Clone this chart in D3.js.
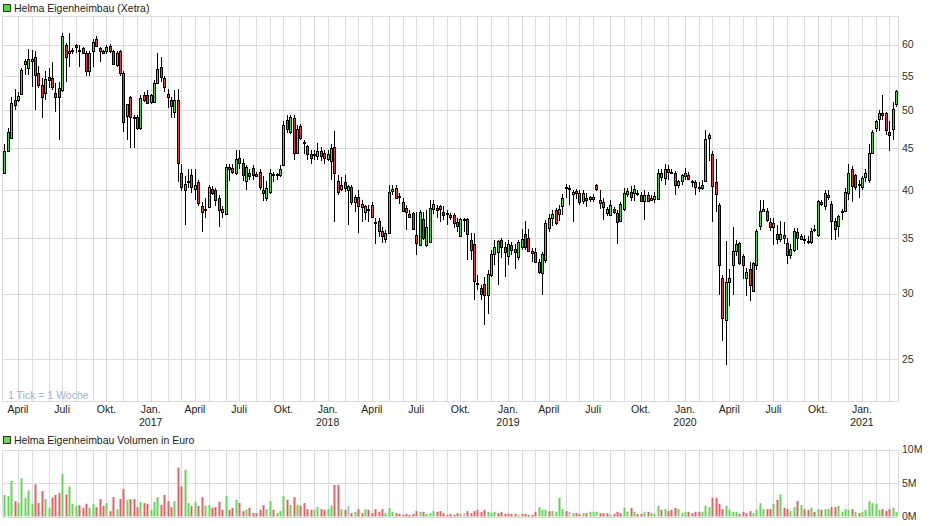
<!DOCTYPE html>
<html><head><meta charset="utf-8">
<script src="https://cdn.jsdelivr.net/npm/d3@7"></script>
<style>body{margin:0;background:#fff}svg{display:block;font-family:"Liberation Sans",Arial,sans-serif}</style>
</head><body><svg id="c" width="940" height="526"></svg>
<script>
// ---- data (weekly candles, Helma Eigenheimbau, Xetra) ----
const firstWeek = "2016-03-07";
const lastWeek = "2021-03-15";
const openP = [
42.0,44.6,46.3,51.5,51.4,52.3,56.9,56.2,57.3,58.0,
55.5,53.7,52.5,54.8,54.7,52.4,53.2,52.9,60.0,59.0,
59.1,60.0,59.1,59.5,58.7,55.8,58.9,61.0,59.5,59.0,
58.9,59.8,58.9,56.7,58.9,55.5,49.2,51.8,49.0,49.0,
47.6,52.2,52.2,51.2,51.2,54.0,56.4,54.7,52.3,51.5,
49.7,51.5,42.0,40.0,40.9,41.7,40.1,40.9,38.3,37.9,
38.2,40.1,40.0,39.1,38.0,37.4,42.7,42.6,42.0,43.8,
43.2,41.0,42.0,42.6,41.8,42.1,40.0,39.2,39.8,41.9,
41.7,41.7,42.9,48.7,47.0,48.9,44.4,47.8,45.7,45.3,
44.3,44.1,44.0,44.6,44.4,43.6,43.4,45.1,41.0,40.1,
40.9,40.0,40.4,38.7,39.3,38.5,37.7,38.0,38.4,36.6,
36.7,35.7,34.9,35.5,39.9,40.3,39.4,38.7,38.1,37.4,
37.5,35.3,34.3,36.9,34.3,34.6,38.0,38.1,38.3,37.7,
37.5,37.3,37.3,36.6,35.2,36.9,36.9,34.8,34.4,30.9,
30.5,30.8,29.9,31.6,33.5,33.7,34.8,34.2,33.3,34.3,
34.0,33.2,34.2,35.4,35.0,33.8,33.7,32.8,31.8,32.9,
36.0,37.0,37.9,37.4,38.3,40.4,40.2,39.6,39.9,39.7,
38.8,39.1,39.0,39.0,40.6,38.9,38.7,37.5,37.3,38.0,
37.5,36.7,38.0,39.6,39.8,39.7,39.7,39.5,38.8,39.5,
38.9,39.0,39.0,42.0,41.4,42.4,42.1,42.0,40.6,41.0,
41.6,41.7,41.0,40.9,40.4,40.2,41.0,46.3,44.3,40.9,
38.4,31.3,27.9,31.0,32.5,33.8,34.5,33.3,31.3,32.1,
30.2,32.5,36.2,37.8,37.8,36.6,36.1,35.4,34.9,35.3,
34.5,33.4,33.9,35.6,34.9,34.9,34.7,34.6,35.9,35.3,
38.7,38.3,39.3,38.5,36.7,36.2,37.6,37.8,39.7,42.4,
41.7,40.7,40.4,41.5,41.2,44.4,47.6,48.8,49.6,49.6,
47.0,47.4,50.9];
const highP = [
45.5,47.6,51.9,53.1,52.6,56.3,57.6,59.3,59.2,59.0,
56.5,54.7,55.7,56.3,57.2,54.0,54.1,62.0,60.3,62.0,
59.5,60.2,60.0,59.7,58.9,58.9,61.0,61.4,59.7,59.2,
60.0,60.2,59.1,58.9,59.1,55.7,50.9,52.0,49.3,49.3,
52.2,52.6,52.9,52.3,54.4,58.7,58.0,55.0,53.0,51.9,
52.9,53.1,43.0,41.6,42.4,42.4,42.4,41.2,38.7,39.2,
40.6,40.5,40.3,39.5,38.3,43.0,43.0,43.0,44.8,44.8,
43.6,42.9,42.4,42.9,42.1,42.4,41.6,41.0,42.4,42.1,
42.0,42.9,48.5,49.3,49.4,49.3,48.0,48.1,46.0,45.4,
44.8,44.7,45.6,45.1,44.8,44.8,45.5,47.2,41.7,41.5,
41.7,40.6,40.6,39.5,40.0,38.9,38.4,38.4,38.7,37.0,
37.0,36.1,35.8,40.6,40.6,40.6,39.7,39.1,38.4,37.9,
37.7,37.6,37.9,37.6,37.9,38.9,38.9,38.4,38.4,38.3,
37.9,37.5,37.5,37.0,37.0,37.0,37.0,35.5,35.5,31.6,
30.7,31.4,32.0,33.9,34.8,34.8,35.0,34.6,34.8,34.6,
34.4,34.8,35.9,36.7,35.9,34.1,34.1,33.0,33.7,36.8,
37.4,37.9,38.1,38.4,39.6,40.7,40.6,40.0,40.1,40.0,
40.0,39.7,39.4,39.6,40.7,40.0,39.2,38.2,38.9,38.2,
37.9,38.7,40.3,40.2,40.5,40.6,40.0,39.8,40.0,39.8,
39.5,39.8,42.4,42.4,43.0,42.9,42.4,42.2,41.2,41.8,
42.6,42.1,41.2,41.2,40.9,41.2,47.3,46.9,44.6,43.6,
38.6,31.6,34.7,32.1,36.1,34.8,34.6,33.5,32.2,32.8,
32.8,35.9,38.9,38.9,38.1,37.0,37.0,36.3,36.7,36.6,
35.0,34.4,36.0,36.0,35.4,35.3,35.2,36.0,36.3,38.9,
38.9,40.0,40.0,38.8,37.0,37.3,38.0,40.3,43.0,42.8,
41.8,41.2,41.6,42.4,45.5,47.3,48.7,50.0,52.2,49.8,
48.5,51.2,52.9];
const lowP = [
41.9,44.5,46.2,50.0,51.2,52.2,55.2,55.2,53.4,50.0,
53.2,48.9,51.5,53.2,52.9,49.7,46.0,52.6,54.1,56.4,
58.5,58.7,56.4,58.4,55.0,55.0,56.4,59.7,57.2,58.4,
58.4,58.7,56.7,56.4,55.0,47.0,46.0,45.0,45.0,47.3,
47.3,51.2,50.8,50.8,51.0,53.8,54.1,52.6,50.3,48.9,
48.9,40.9,39.9,36.3,40.3,39.7,38.9,38.3,35.6,37.0,
38.1,39.5,38.3,36.1,37.0,37.3,41.0,41.8,41.7,42.5,
41.1,40.0,41.2,41.2,41.5,40.0,38.8,38.8,39.6,40.9,
41.2,41.5,42.8,46.9,46.8,43.5,44.2,46.0,44.2,43.5,
43.0,43.5,43.5,43.4,43.0,43.4,41.2,36.6,39.5,39.9,
39.8,36.3,38.4,37.6,35.5,36.6,36.8,36.6,37.0,34.4,
35.1,34.5,34.5,35.4,39.5,39.1,38.5,37.6,35.8,37.0,
35.8,33.4,34.3,34.8,34.2,34.5,37.4,37.0,36.6,36.8,
36.3,36.8,36.0,35.6,35.1,35.6,32.9,32.9,29.5,30.3,
29.5,27.5,28.3,31.4,32.5,30.7,33.1,31.4,32.5,33.4,
32.1,32.9,33.9,33.9,33.7,32.8,32.7,31.7,29.9,32.7,
35.6,36.2,36.3,36.7,37.3,39.2,38.4,36.6,39.0,38.4,
38.5,38.2,38.7,38.7,39.9,38.0,36.8,37.2,37.2,37.4,
34.4,36.6,37.8,39.3,38.8,38.8,39.4,38.7,36.8,38.7,
38.8,38.6,38.9,41.0,40.6,41.2,41.8,39.5,40.3,40.6,
41.2,41.2,40.4,39.5,39.8,40.0,40.9,43.4,36.6,37.7,
29.9,26.3,24.6,29.0,29.9,33.3,32.5,31.2,29.8,29.4,
30.1,32.0,35.8,37.7,36.6,35.7,34.3,34.4,34.6,34.4,
32.6,33.0,33.7,33.9,34.8,34.4,34.4,34.4,35.6,35.1,
38.3,37.9,38.9,34.8,34.8,35.1,36.8,37.7,38.9,38.7,
40.0,39.1,40.0,40.9,40.8,44.2,47.0,47.2,48.7,46.7,
44.6,46.0,50.4];
const closeP = [
44.6,47.0,51.0,50.7,52.0,56.0,57.4,57.6,57.6,55.2,
53.7,51.9,54.6,54.4,53.4,51.9,51.9,61.5,58.0,58.7,
59.0,59.7,58.9,58.7,55.8,58.7,60.5,59.8,58.9,58.7,
59.7,58.9,56.9,58.7,55.4,48.4,50.8,49.0,48.9,47.6,
51.7,51.5,51.0,52.2,54.0,56.1,54.9,53.4,51.8,50.6,
51.5,43.2,40.4,40.7,41.1,40.4,40.6,38.6,37.7,38.0,
40.4,39.7,38.9,37.9,37.7,42.7,42.4,42.1,43.7,43.2,
41.7,42.7,41.6,41.7,41.6,40.4,39.7,40.3,42.0,41.7,
41.8,42.5,48.0,47.4,49.0,44.4,47.4,46.3,45.6,44.2,
43.8,44.2,44.6,44.0,43.8,44.2,45.0,42.0,39.8,40.6,
40.3,40.5,38.7,39.3,38.3,38.2,38.3,37.9,37.1,36.5,
35.7,35.2,35.5,39.8,40.1,39.2,39.3,37.8,37.6,37.1,
35.9,34.5,37.6,35.0,36.1,38.1,38.5,37.9,38.0,37.3,
37.4,37.1,36.5,36.2,36.9,36.9,35.4,33.9,31.1,30.8,
30.0,29.9,31.7,33.5,34.2,34.7,34.2,33.7,34.4,33.9,
33.7,34.6,34.9,34.2,33.8,33.6,32.8,31.9,33.5,36.5,
37.0,37.4,36.5,38.0,39.1,40.3,40.2,39.8,39.7,38.7,
39.7,38.9,39.3,39.3,40.1,38.6,38.2,38.0,38.4,37.6,
36.6,38.5,39.7,39.9,39.3,40.1,39.6,38.8,39.5,38.8,
39.1,39.4,42.0,41.5,42.5,42.1,42.0,40.6,41.0,41.7,
42.0,41.3,40.9,40.4,40.2,40.6,46.1,46.6,40.5,39.6,
32.5,28.0,31.0,31.3,33.8,34.4,32.7,32.5,31.9,30.7,
32.7,35.7,37.8,38.0,36.8,36.1,36.5,34.9,35.4,35.0,
33.4,34.0,35.7,35.0,35.2,34.8,34.6,35.7,35.8,38.8,
38.5,39.7,39.5,36.7,35.9,37.2,37.8,39.8,42.0,40.5,
40.4,40.6,41.4,42.0,44.4,47.1,48.5,49.6,49.4,47.3,
46.7,50.2,52.8];
// weekly turnover in million EUR
const volumeM = [
3.2,3.05,5.3,2.3,2.0,5.7,2.8,3.9,1.9,4.8,
2.0,3.8,2.6,1.3,2.8,3.2,3.5,6.3,3.3,4.5,
1.9,1.6,1.7,1.3,1.9,1.3,1.9,1.4,2.6,1.6,
2.0,0.8,2.9,1.1,2.6,4.1,2.5,2.6,2.6,1.4,
2.2,2.0,1.9,1.0,2.2,2.9,1.7,3.2,2.3,1.4,
2.3,7.3,4.5,7.0,2.0,1.6,2.2,1.6,2.9,1.6,
1.7,1.3,1.4,2.2,1.0,3.05,1.0,1.3,2.5,2.0,
0.8,1.0,1.3,0.5,0.5,1.0,1.7,1.1,2.3,1.0,
0.5,0.8,3.05,2.5,1.7,2.9,1.7,1.6,2.0,1.1,
1.0,1.0,1.4,1.1,1.0,1.1,1.6,4.7,4.7,1.1,
1.0,1.6,0.5,0.7,1.1,0.5,1.1,1.0,0.5,1.1,
0.7,1.1,0.5,1.3,0.7,0.5,0.4,0.25,0.4,0.25,
0.4,0.8,0.7,0.7,0.4,0.5,0.8,0.7,0.8,0.5,
0.25,0.4,0.25,0.5,0.4,0.5,0.8,0.5,0.8,1.0,
0.7,1.0,0.7,0.5,0.7,0.5,0.7,0.4,0.4,0.4,
0.4,0.25,0.4,0.4,0.25,0.25,0.7,1.4,1.0,1.0,
0.8,0.8,0.7,2.8,1.1,0.8,0.7,0.5,0.5,0.4,
0.5,0.5,0.7,0.7,0.7,0.5,0.5,0.5,0.25,0.4,
0.7,0.5,1.3,0.7,1.3,0.7,0.4,0.4,0.7,0.7,
0.5,0.4,1.6,1.0,1.1,0.8,1.0,1.3,1.1,0.5,
0.7,0.7,0.5,0.7,0.7,0.7,1.6,1.4,2.8,2.8,
1.9,1.1,1.6,1.0,0.7,0.7,0.4,0.7,0.5,0.8,
0.5,1.0,2.0,1.1,1.1,1.1,1.9,2.5,3.3,1.3,
1.1,0.8,1.4,2.3,1.7,1.1,1.0,1.3,0.7,1.1,
1.0,1.1,1.1,1.4,1.4,1.6,0.7,1.1,1.0,1.1,
0.7,0.5,0.7,1.0,2.3,2.0,1.9,1.0,1.1,0.8,
1.1,1.3,0.7];
// direction of each volume bar: g = up, r = down, n = unchanged
const volumeDir = (
"gggrgggggr"+"rrggrrrgrg"+"ggrrrggrrr"+"grrgrrgrrr"+"grrgggrrrr"+
"grrggrgrrg"+"grrrrgrrgr"+"rgrrrrrggr"+"gggrgrgrrr"+"rggrrggrrg"+
"rnrgrrgrrr"+"rrgggrrrrr"+"rrgrgggrrr"+"rrrrgnrrrr"+"rrgggrrrrr"+
"rgrrrrrggg"+"rggggrngrr"+"grgggrrrgr"+"rrggrgrrgr"+"gggrgrrrgg"+
"grrrrgggrr"+"rrggggrrrr"+"ggggrrgrgr"+"rggrgrrgrg"+"rggrrggggr"+
"grggggggrr"+"rgg").split("");
const priceTicks = [25,30,35,40,45,50,55,60];
const volumeTicks = [0,5,10];
const monthLabels = {0:"Jan.",3:"April",6:"Juli",9:"Okt."};
const titlePrice = "Helma Eigenheimbau (Xetra)";
const titleVolume = "Helma Eigenheimbau Volumen in Euro";
const tickNote = "1 Tick = 1 Woche";

// ---- build ----
const parse = d3.timeParse("%Y-%m-%d");
const start = parse(firstWeek), end = parse(lastWeek);
const weeks = d3.timeDay.range(start, d3.timeDay.offset(end, 1), 7);
const data = weeks.map((d, i) => ({date: d, o: openP[i], h: highP[i], l: lowP[i], c: closeP[i], v: volumeM[i], dir: volumeDir[i]}));

const svg = d3.select("#c");
const FS = 10.5;
const L = 2.5, R = 898.5, T = 16.5, B = 401.5;
const VT = 449.5, VB = 516.5;
const x = d3.scaleTime().domain([start, end]).range([4.3, 896]);
const y = d3.scaleLog().domain([22.24, 65]).range([401, 16]);
const yv = d3.scaleLinear().domain([0, 10]).range([516.5, 449.5]);

const grid = "#dcdcdc";
const months = d3.timeMonth.range(d3.timeMonth.offset(d3.timeMonth.floor(start), 1), end)
  .map(m => ({m, d: d3.timeMonday.ceil(m)})).filter(o => o.d <= end);
const px = d => Math.round(x(d)) + 0.5;

// main panel grid
const gMain = svg.append("g");
gMain.selectAll("line.v").data(months).join("line")
  .attr("x1", o => px(o.d)).attr("x2", o => px(o.d)).attr("y1", T).attr("y2", B)
  .attr("stroke", grid);
gMain.selectAll("line.h").data(priceTicks).join("line")
  .attr("x1", L).attr("x2", R).attr("y1", v => Math.round(y(v)) + 0.5).attr("y2", v => Math.round(y(v)) + 0.5)
  .attr("stroke", grid);
gMain.append("rect").attr("x", L).attr("y", T).attr("width", R - L).attr("height", B - T)
  .attr("fill", "none").attr("stroke", grid);

// volume panel grid
const gVol = svg.append("g");
gVol.selectAll("line.v").data(months).join("line")
  .attr("x1", o => px(o.d)).attr("x2", o => px(o.d)).attr("y1", VT).attr("y2", VB)
  .attr("stroke", grid);
gVol.selectAll("line.h").data(volumeTicks).join("line")
  .attr("x1", L).attr("x2", R).attr("y1", v => Math.round(yv(v)) + 0.5).attr("y2", v => Math.round(yv(v)) + 0.5)
  .attr("stroke", grid);
gVol.append("line").attr("x1", L).attr("x2", L).attr("y1", VT).attr("y2", VB).attr("stroke", grid);
gVol.append("line").attr("x1", R).attr("x2", R).attr("y1", VT).attr("y2", VB).attr("stroke", grid);

// tick note
svg.append("text").attr("x", 8).attr("y", 399).attr("font-size", FS).attr("fill", "#9fb3cc").text(tickNote);

// candles
const up = "#33e033", dn = "#ee3333";
const gc = svg.append("g");
data.forEach(d => {
  const cx = Math.round(x(d.date));
  const hi = Math.max(d.h, d.o, d.c), lo = Math.min(d.l, d.o, d.c);
  gc.append("line").attr("x1", cx + 0.5).attr("x2", cx + 0.5)
    .attr("y1", Math.round(y(hi))).attr("y2", Math.round(y(lo)))
    .attr("stroke", "#000").attr("stroke-width", 1);
  const yt = Math.round(y(Math.max(d.o, d.c))), yb = Math.round(y(Math.min(d.o, d.c)));
  gc.append("rect").attr("x", cx - 0.5).attr("y", yt + 0.5).attr("width", 2).attr("height", Math.max(1, yb - yt))
    .attr("fill", d.c >= d.o ? up : dn).attr("stroke", "#000").attr("stroke-width", 1);
});

// volume bars
const vcol = {g: "#66d65a", r: "#e06464", n: "#bbbbbb"};
svg.append("g").selectAll("rect").data(data).join("rect")
  .attr("x", d => Math.round(x(d.date)) - 0.5).attr("width", 2)
  .attr("y", d => yv(d.v)).attr("height", d => yv(0) - yv(d.v))
  .attr("fill", d => vcol[d.dir]);

// right axes labels
const fontC = "#333";
svg.append("g").selectAll("text").data(priceTicks).join("text")
  .attr("x", 902).attr("y", v => y(v)).attr("dy", "0.35em").attr("font-size", FS).attr("fill", fontC)
  .text(v => v);
svg.append("g").selectAll("text").data(volumeTicks).join("text")
  .attr("x", 902).attr("y", v => yv(v)).attr("dy", "0.35em").attr("font-size", FS).attr("fill", fontC)
  .text(v => v + "M");

// x labels
const labelled = months.filter(o => monthLabels[o.m.getMonth()] !== undefined);
const gx = svg.append("g").attr("font-size", FS).attr("fill", "#222").attr("text-anchor", "middle");
gx.selectAll("text.m").data(labelled).join("text")
  .attr("x", o => x(o.d)).attr("y", 413).text(o => monthLabels[o.m.getMonth()]);
gx.selectAll("text.y").data(labelled.filter(o => o.m.getMonth() === 0)).join("text")
  .attr("x", o => x(o.d)).attr("y", 426).text(o => o.m.getFullYear());

// legends
svg.append("rect").attr("x", 3.5).attr("y", 4.5).attr("width", 7).attr("height", 7).attr("fill", "#44dd44").attr("stroke", "#333");
svg.append("text").attr("x", 14).attr("y", 12).attr("font-size", FS).attr("fill", "#222").text(titlePrice);
svg.append("rect").attr("x", 3.5).attr("y", 436.5).attr("width", 7).attr("height", 7).attr("fill", "#66d65a").attr("stroke", "#333");
svg.append("text").attr("x", 14).attr("y", 444).attr("font-size", FS).attr("fill", "#222").text(titleVolume);
</script></body></html>
